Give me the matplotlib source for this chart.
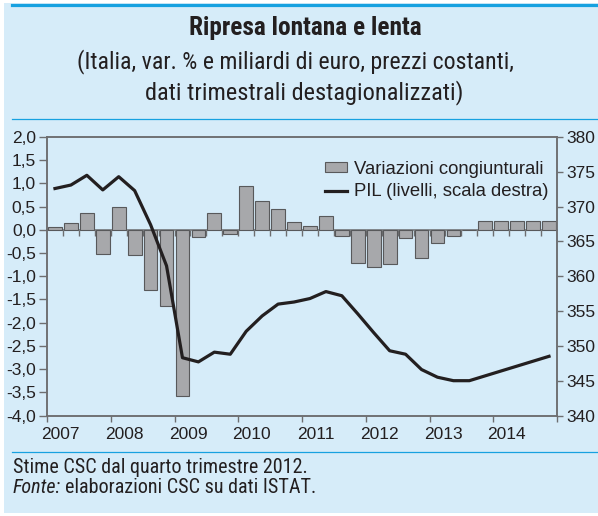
import re
import numpy as np
import matplotlib
matplotlib.use("Agg")
import matplotlib.pyplot as plt
from matplotlib import font_manager as fm
from matplotlib.lines import Line2D
from matplotlib.patches import Rectangle, Patch

# quarterly data, 2007Q1 - 2014Q4
years = ["2007", "2008", "2009", "2010", "2011", "2012", "2013", "2014"]
var_cong = [0.07, 0.14, 0.36, -0.52,
            0.49, -0.55, -1.29, -1.65,
            -3.58, -0.16, 0.37, -0.08,
            0.95, 0.63, 0.44, 0.16,
            0.09, 0.29, -0.14, -0.72,
            -0.79, -0.74, -0.18, -0.60,
            -0.29, -0.14, 0.0, 0.19,
            0.19, 0.19, 0.19, 0.19]
pil = [372.6, 373.1, 374.5, 372.4,
       374.3, 372.3, 367.4, 361.5,
       348.3, 347.7, 349.1, 348.8,
       352.1, 354.3, 356.0, 356.3,
       356.8, 357.8, 357.2, 354.6,
       351.9, 349.3, 348.8, 346.6,
       345.5, 345.0, 345.0, 345.7,
       346.4, 347.1, 347.8, 348.5]
left_ticks = [2.0, 1.5, 1.0, 0.5, 0.0, -0.5, -1.0, -1.5, -2.0, -2.5, -3.0, -3.5, -4.0]
right_ticks = [340, 345, 350, 355, 360, 365, 370, 375, 380]

BG = "#d6ecf9"
BLUE = "#17a1e0"
TXT = "#231f20"
AX = "#6d6e70"


# condensed faces for headings/footnotes (the original uses a narrow sans)
def wnum(w):
    if isinstance(w, str):
        return fm.weight_dict.get(w, 400)
    return int(w)


pat = re.compile(r"^(Roboto|Liberation Sans|Noto Sans|DejaVu Sans|Open Sans)( (Narrow|Condensed|SemiCondensed))")
groups = {}
for f in fm.fontManager.ttflist:
    m = pat.match(f.name)
    if m:
        groups.setdefault(m.group(0), []).append(f)
    elif f.name in ("Roboto", "Noto Sans", "DejaVu Sans", "Open Sans") and \
            f.stretch in ("condensed", "semi-condensed", 75, 87.5):
        groups.setdefault(f.name + " (cond)", []).append(f)

order = ["Roboto Condensed", "Liberation Sans Narrow", "Noto Sans Condensed",
         "Noto Sans (cond)", "DejaVu Sans Condensed", "DejaVu Sans (cond)",
         "Open Sans Condensed", "Noto Sans SemiCondensed"]
chosen = next((groups[k] for k in order if k in groups), None)


def pick(weight, italic):
    if chosen is None:
        return fm.FontProperties(family="Liberation Sans",
                                 weight="bold" if weight >= 700 else "normal",
                                 style="italic" if italic else "normal")
    cands = [f for f in chosen if (f.style != "normal") == italic] or chosen
    f = min(cands, key=lambda f: (abs(wnum(f.weight) - weight), len(f.name)))
    return fm.FontProperties(fname=f.fname)


fp_reg = pick(400, False)
fp_bold = pick(700, False)
fp_ital = pick(400, True)

plt.rcParams["font.family"] = ["Liberation Sans", "DejaVu Sans"]
plt.rcParams["text.color"] = TXT

fig = plt.figure(figsize=(5.98, 5.16), dpi=100)
fig.patch.set_facecolor("white")
fig.add_artist(Rectangle((4/598, 3/516), 1 - 4/598, 1 - 6/516, transform=fig.transFigure,
                         facecolor=BG, edgecolor="none", zorder=-10))
# blue rules
fig.add_artist(Line2D([12/598, 1], [1 - 4.5/516] * 2, transform=fig.transFigure, color=BLUE, lw=2.3))
fig.add_artist(Line2D([12/598, 1], [1 - 118.5/516] * 2, transform=fig.transFigure, color=BLUE, lw=0.9))
fig.add_artist(Line2D([12/598, 1], [1 - 451.7/516] * 2, transform=fig.transFigure, color=BLUE, lw=0.9))


def heading(xc, ybase, s, width_px, size, fp, **kw):
    fp = fp.copy()
    fp.set_size(size)
    t = fig.text(xc / 598, 1 - ybase / 516, s, va="baseline", fontproperties=fp, **kw)
    fig.canvas.draw()
    w = t.get_window_extent().width
    t.set_fontsize(min(size * width_px / w, size * 1.35))
    return t


heading(305, 35, "Ripresa lontana e lenta", 234, 16.5, fp_bold, ha="center")
heading(295, 68, "(Italia, var. % e miliardi di euro, prezzi costanti,", 436, 15.5, fp_reg, ha="center")
heading(304.5, 99, "dati trimestrali destagionalizzati)", 317, 15.5, fp_reg, ha="center")
t0 = heading(13, 473, "Stime CSC dal quarto trimestre 2012.", 294, 13, fp_reg, ha="left")
t1 = fig.text(13 / 598, 1 - 493 / 516, "Fonte:", va="baseline", ha="left", fontproperties=fp_ital)
t1.set_fontsize(t0.get_fontsize())
fig.canvas.draw()
bb = t1.get_window_extent()
t2 = fig.text((bb.x1 + 4) / 598, 1 - 493 / 516, "elaborazioni CSC su dati ISTAT.", va="baseline",
              ha="left", fontproperties=fp_reg)
t2.set_fontsize(t0.get_fontsize())

ax = fig.add_axes([47/598, 1 - 415.5/516, 510/598, 278.5/516])
ax.set_facecolor(BG)
x = np.arange(len(var_cong)) + 0.5
ax.bar(x, var_cong, width=0.86, color="#a7a8ab", edgecolor="#58595b", linewidth=0.8, zorder=2,
       label="Variazioni congiunturali")
ax.set_xlim(0, len(var_cong))
ax.set_ylim(-4, 2)
ax.set_yticks(left_ticks)
ax.set_yticklabels([f"{v:.1f}".replace(".", ",") for v in left_ticks])
ax.set_xticks(np.arange(0, len(var_cong) + 1, 4))
ax.set_xticklabels([])
ax.set_xticks(np.arange(len(years)) * 4 + 0.85, minor=True)
ax.set_xticklabels(years, minor=True)
ax.tick_params(axis="x", which="minor", length=0, pad=8, labelsize=12.5, colors=TXT)
ax.tick_params(axis="x", which="major", length=4, width=1, color=AX, direction="out")
ax.tick_params(axis="y", length=6, width=1, color=AX, pad=2, labelsize=12.5, labelcolor=TXT)
for s in ax.spines.values():
    s.set_color(AX)
    s.set_linewidth(1.1)

# category axis crossing at zero
zero = ax.secondary_xaxis(4/6)
zero.set_xticks(np.arange(1, len(var_cong)))
zero.tick_params(direction="in", length=4, width=1, color=AX, labeltop=False, labelbottom=False)
for s in zero.spines.values():
    s.set_color(AX)
    s.set_linewidth(1.1)

ax2 = ax.twinx()
ax2.plot(x, pil, color=TXT, lw=2.3, zorder=3, label="PIL (livelli, scala destra)")
ax2.set_ylim(340, 380)
ax2.set_yticks(right_ticks)
ax2.tick_params(axis="y", length=4, width=1, color=AX, pad=3, labelsize=12.5, labelcolor=TXT)
for s in ax2.spines.values():
    s.set_color(AX)
    s.set_linewidth(1.1)

handles = [Patch(facecolor="#a7a8ab", edgecolor="#58595b", linewidth=0.8),
           Line2D([], [], color=TXT, lw=2.3)]
ax2.legend(handles, ["Variazioni congiunturali", "PIL (livelli, scala destra)"],
           loc="upper left", bbox_to_anchor=(0.545, 0.915), frameon=False, fontsize=13.3,
           handlelength=1.2, handleheight=0.4, handletextpad=0.35, labelspacing=0.3,
           borderpad=0, borderaxespad=0)

fig.savefig("out.png", dpi=100, facecolor=fig.get_facecolor())
